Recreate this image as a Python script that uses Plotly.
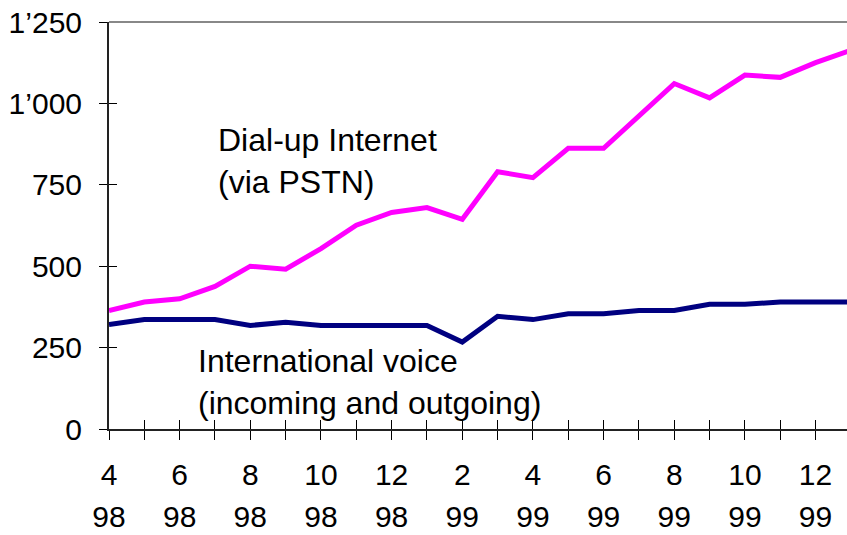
import plotly.graph_objects as go

# Month index 0 = April 1998
month_idx = list(range(22))
month_labels = ["4", "", "6", "", "8", "", "10", "", "12", "", "2", "", "4", "", "6", "", "8", "", "10", "", "12", ""]
year_labels = ["98", "", "98", "", "98", "", "98", "", "98", "", "99", "", "99", "", "99", "", "99", "", "99", "", "99", ""]

dialup = [364, 390, 400, 438, 500, 491, 554, 626, 665, 680, 644,
          790, 772, 862, 862, 960, 1061, 1017, 1087, 1080, 1125, 1163]
intl_voice = [321, 336, 336, 336, 318, 328, 318, 318, 318, 318, 267,
              346, 336, 354, 354, 364, 364, 383, 383, 390, 390, 390]

y_ticks = [0, 250, 500, 750, 1000, 1250]
y_ticktext = ["0", "250", "500", "750", "1’000", "1’250"]

FONT = "Liberation Sans, Arial, sans-serif"
XR = [0, 20.89]
YR = [0, 1250]

fig = go.Figure()
fig.add_trace(go.Scatter(x=month_idx, y=dialup, mode="lines",
                         line=dict(color="#FF00FF", width=5), name="Dial-up Internet",
                         xaxis="x", yaxis="y"))
fig.add_trace(go.Scatter(x=month_idx, y=intl_voice, mode="lines",
                         line=dict(color="#000080", width=5), name="International voice",
                         xaxis="x2", yaxis="y2"))

fig.update_layout(
    template="none",
    width=847, height=535,
    margin=dict(l=109, r=0, t=22, b=106, autoexpand=False),
    paper_bgcolor="white", plot_bgcolor="white",
    showlegend=False,
    font=dict(family=FONT, size=30, color="black"),
    xaxis=dict(range=XR, tickvals=month_idx, ticktext=month_labels, automargin=False,
               ticks="outside", ticklen=9, tickcolor="black", tickwidth=1,
               showline=True, linecolor="#222", linewidth=2,
               showgrid=False, zeroline=False, ticklabelstandoff=9,
               tickfont=dict(size=30)),
    xaxis2=dict(range=XR, tickvals=month_idx, ticktext=year_labels, automargin=False,
                overlaying="x", anchor="y", side="bottom",
                ticks="inside", ticklen=9, tickcolor="black", tickwidth=1,
                showline=False, showgrid=False, zeroline=False,
                ticklabelstandoff=67, tickfont=dict(size=30)),
    yaxis=dict(range=YR, tickvals=y_ticks, ticktext=y_ticktext, automargin=False,
               ticks="outside", ticklen=8, tickcolor="black", tickwidth=1,
               showline=True, linecolor="#222", linewidth=2,
               showgrid=False, zeroline=False, ticklabelstandoff=11,
               tickfont=dict(size=30)),
    yaxis2=dict(range=YR, tickvals=y_ticks, showticklabels=False, automargin=False,
                overlaying="y", anchor="x", side="left",
                ticks="inside", ticklen=8, tickcolor="black", tickwidth=1,
                showline=False, showgrid=False, zeroline=False),
    shapes=[dict(type="line", xref="paper", yref="paper", x0=0, x1=1, y0=1, y1=1,
                 line=dict(color="#888888", width=2))],
    annotations=[
        dict(text="Dial-up Internet<br>(via PSTN)", x=3.04, y=948, xref="x", yref="y",
             xanchor="left", yanchor="top", align="left", showarrow=False,
             font=dict(size=32, family=FONT, color="black")),
        dict(text="International voice<br>(incoming and outgoing)", x=2.46, y=270, xref="x", yref="y",
             xanchor="left", yanchor="top", align="left", showarrow=False,
             font=dict(size=32, family=FONT, color="black")),
    ],
)

fig.write_html("out.html", config={"displayModeBar": False},
               post_script="document.body.style.margin='0';document.body.style.overflow='hidden';")
